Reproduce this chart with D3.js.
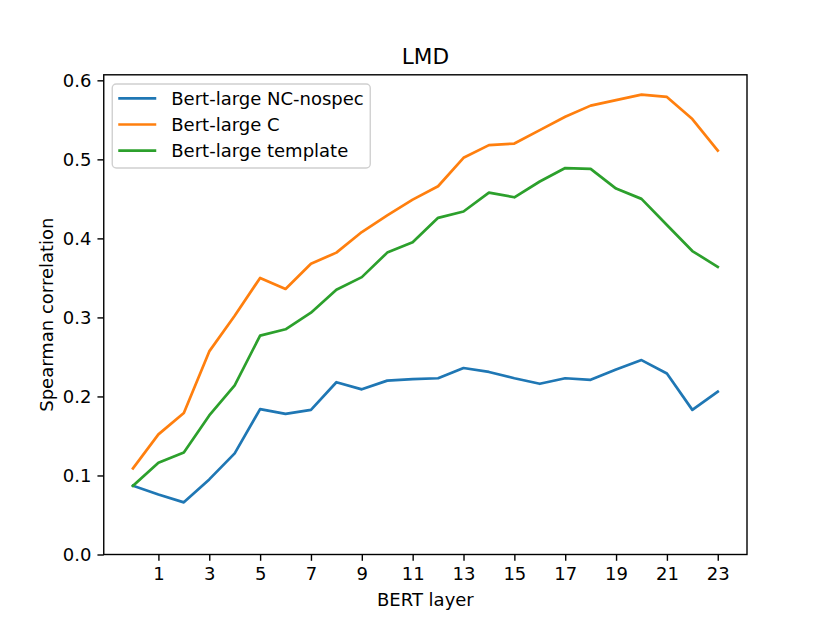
<!DOCTYPE html>
<html>
<head>
<meta charset="utf-8">
<script src="https://cdn.jsdelivr.net/npm/d3@7"></script>
<style>
  html, body { margin: 0; padding: 0; background: #fff; }
  svg { display: block; font-family: "DejaVu Sans", sans-serif; }
</style>
</head>
<body>
<div id="chart"></div>
<script>
// ── Data ──
const layers = d3.range(0, 24);
const xTicks = [1, 3, 5, 7, 9, 11, 13, 15, 17, 19, 21, 23];
const yTicks = [0.0, 0.1, 0.2, 0.3, 0.4, 0.5, 0.6];

const nospecValues = [0.087, 0.076, 0.066, 0.095, 0.128, 0.184, 0.178, 0.183, 0.218, 0.209, 0.220, 0.222,
  0.223, 0.236, 0.231, 0.223, 0.216, 0.223, 0.221, 0.234, 0.246, 0.229, 0.183, 0.206];
const cValues = [0.109, 0.152, 0.179, 0.257, 0.302, 0.350, 0.336, 0.368, 0.382, 0.408, 0.429, 0.449,
  0.466, 0.502, 0.518, 0.520, 0.537, 0.554, 0.568, 0.575, 0.582, 0.579, 0.551, 0.511];
const templateValues = [0.087, 0.116, 0.129, 0.176, 0.214, 0.277, 0.285, 0.306, 0.335, 0.351, 0.382, 0.395,
  0.426, 0.434, 0.458, 0.452, 0.472, 0.489, 0.488, 0.463, 0.450, 0.417, 0.384, 0.364];

const seriesNames = ['Bert-large NC-nospec', 'Bert-large C', 'Bert-large template'];
const seriesColors = ['#1f77b4', '#ff7f0e', '#2ca02c'];
const seriesValues = [nospecValues, cValues, templateValues];

// ── Layout (matplotlib-like figure) ──
const W = 830, H = 623;
const margin = { top: 74.8, right: 83, bottom: 68.5, left: 103.75 };
const width = W - margin.left - margin.right;
const height = H - margin.top - margin.bottom;

const svg = d3.select('#chart').append('svg')
  .attr('width', W)
  .attr('height', H);

const g = svg.append('g')
  .attr('transform', `translate(${margin.left},${margin.top})`);

// Scales
const xScale = d3.scaleLinear()
  .domain([-1.15, 24.15])
  .range([0, width]);

const yScale = d3.scaleLinear()
  .domain([0, 0.607])
  .range([height, 0]);

// Lines
const line = d3.line()
  .x((d, i) => xScale(layers[i]))
  .y(d => yScale(d));

for (let si = 0; si < seriesValues.length; si++) {
  g.append('path')
    .datum(seriesValues[si])
    .attr('fill', 'none')
    .attr('stroke', seriesColors[si])
    .attr('stroke-width', 2.7)
    .attr('stroke-linejoin', 'round')
    .attr('stroke-linecap', 'square')
    .attr('d', line);
}

// Axes
const xAxis = g.append('g')
  .attr('transform', `translate(0,${height})`)
  .call(d3.axisBottom(xScale).tickValues(xTicks).tickSize(6.3).tickPadding(6).tickFormat(d3.format('d')));

const yAxis = g.append('g')
  .call(d3.axisLeft(yScale).tickValues(yTicks).tickSize(6.3).tickPadding(6).tickFormat(d3.format('.1f')));

for (const ax of [xAxis, yAxis]) {
  ax.select('.domain').remove();
  ax.selectAll('line').attr('stroke', '#000').attr('stroke-width', 1.4);
  ax.selectAll('text')
    .attr('font-size', '18px')
    .attr('font-family', '"DejaVu Sans", sans-serif')
    .attr('fill', '#000');
}

// Frame
g.append('rect')
  .attr('width', width)
  .attr('height', height)
  .attr('fill', 'none')
  .attr('stroke', '#000')
  .attr('stroke-width', 1.4);

// Title and axis labels
g.append('text')
  .attr('x', width / 2)
  .attr('y', -11)
  .attr('text-anchor', 'middle')
  .attr('font-size', '21.6px')
  .attr('fill', '#000')
  .text('LMD');

g.append('text')
  .attr('x', width / 2)
  .attr('y', height + 52)
  .attr('text-anchor', 'middle')
  .attr('font-size', '18px')
  .attr('fill', '#000')
  .text('BERT layer');

g.append('text')
  .attr('transform', 'rotate(-90)')
  .attr('x', -height / 2)
  .attr('y', -51)
  .attr('text-anchor', 'middle')
  .attr('font-size', '18px')
  .attr('fill', '#000')
  .text('Spearman correlation');

// Legend
const legend = g.append('g')
  .attr('transform', 'translate(8.5,9.2)');

legend.append('rect')
  .attr('width', 258)
  .attr('height', 84)
  .attr('rx', 4)
  .attr('fill', '#fff')
  .attr('fill-opacity', 0.8)
  .attr('stroke', '#d0d0d0')
  .attr('stroke-width', 1.4);

for (let si = 0; si < seriesNames.length; si++) {
  const ly = 14.3 + si * 26.2;
  legend.append('line')
    .attr('x1', 6)
    .attr('x2', 44)
    .attr('y1', ly)
    .attr('y2', ly)
    .attr('stroke', seriesColors[si])
    .attr('stroke-width', 2.7);
  legend.append('text')
    .attr('x', 59)
    .attr('y', ly)
    .attr('dy', '0.36em')
    .attr('font-size', '18px')
    .attr('fill', '#000')
    .text(seriesNames[si]);
}
</script>
</body>
</html>
